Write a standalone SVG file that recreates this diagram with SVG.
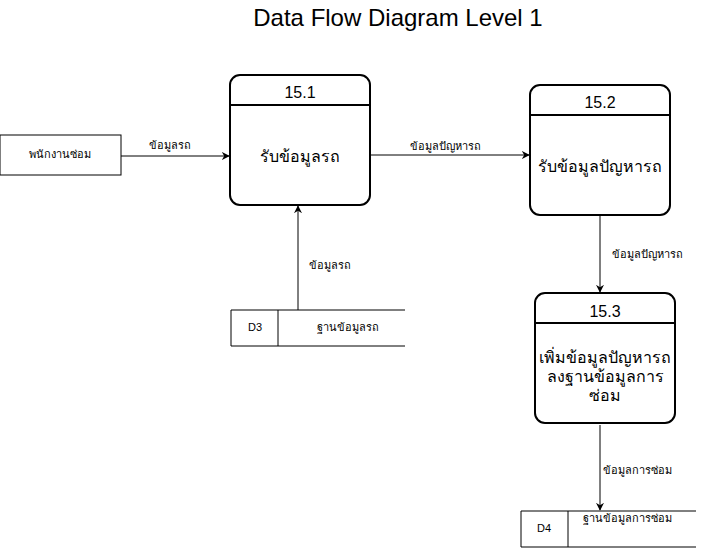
<svg xmlns="http://www.w3.org/2000/svg" width="726" height="553" viewBox="0 0 726 553">
<defs>
<style>
text{font-family:"Liberation Sans","Noto Sans",sans-serif;fill:#000;text-anchor:middle;dominant-baseline:central}
.box{fill:#fff;stroke:#000;stroke-width:1}
.proc{fill:#fff;stroke:#000;stroke-width:2}
.ln{fill:none;stroke:#000;stroke-width:1}
.lbl{font-size:11px}
.num{font-size:16px}
.big{font-size:16px}
.sm{font-size:11px}
</style>
<marker id="arr" viewBox="0 0 10 10" refX="9" refY="5" markerWidth="8" markerHeight="8" markerUnits="userSpaceOnUse" orient="auto">
<path d="M0,0 L10,5 L0,10 L3,5 Z" fill="#000"/>
</marker>
</defs>
<rect width="726" height="553" fill="#fff"/>
<text x="398" y="17" style="font-size:24px">Data Flow Diagram Level 1</text>
<g id="connectors">
<line class="ln" x1="121" y1="156" x2="229" y2="156" marker-end="url(#arr)"/>
<line class="ln" x1="371" y1="155" x2="529" y2="155" marker-end="url(#arr)"/>
<line class="ln" x1="298" y1="310" x2="298" y2="206" marker-end="url(#arr)"/>
<line class="ln" x1="600" y1="216" x2="600" y2="292" marker-end="url(#arr)"/>
<line class="ln" x1="600" y1="425" x2="600" y2="510" marker-end="url(#arr)"/>
<text class="lbl" x="170" y="145">ข้อมูลรถ</text>
<text class="lbl" x="445" y="146">ข้อมูลปัญหารถ</text>
<text class="lbl" x="330" y="265">ข้อมูลรถ</text>
<text class="lbl" x="647" y="254">ข้อมูลปัญหารถ</text>
<text class="lbl" x="637" y="470">ข้อมูลการซ่อม</text>
</g>
<g id="entity">
<rect class="box" x="0" y="135" width="121" height="40"/>
<text class="lbl" x="60" y="154">พนักงานซ่อม</text>
</g>
<g id="p151">
<rect class="proc" x="230" y="75" width="140" height="130" rx="10"/>
<line class="ln" x1="230" y1="105" x2="370" y2="105" style="stroke-width:2"/>
<text class="num" x="300" y="92">15.1</text>
<text class="big" x="300" y="156">รับข้อมูลรถ</text>
</g>
<g id="p152">
<rect class="proc" x="530" y="85" width="140" height="130" rx="10"/>
<line class="ln" x1="530" y1="115" x2="670" y2="115" style="stroke-width:2"/>
<text class="num" x="600" y="102">15.2</text>
<text class="big" x="600" y="166">รับข้อมูลปัญหารถ</text>
</g>
<g id="p153">
<rect class="proc" x="535" y="293" width="140" height="130" rx="10"/>
<line class="ln" x1="535" y1="323" x2="675" y2="323" style="stroke-width:2"/>
<text class="num" x="605" y="311">15.3</text>
<text class="big" x="605" y="357">เพิ่มข้อมูลปัญหารถ</text>
<text class="big" x="605" y="376">ลงฐานข้อมูลการ</text>
<text class="big" x="605" y="395">ซ่อม</text>
</g>
<g id="d3">
<path class="ln" d="M405,310 H231 V346 H405 M278,310 V346"/>
<text class="sm" x="255" y="327">D3</text>
<text class="lbl" x="348" y="327">ฐานข้อมูลรถ</text>
</g>
<g id="d4">
<path class="ln" d="M696,511 H521 V547 H696 M568,511 V547"/>
<text class="sm" x="544" y="528">D4</text>
<text class="lbl" x="627" y="518">ฐานข้อมูลการซ่อม</text>
</g>
</svg>
